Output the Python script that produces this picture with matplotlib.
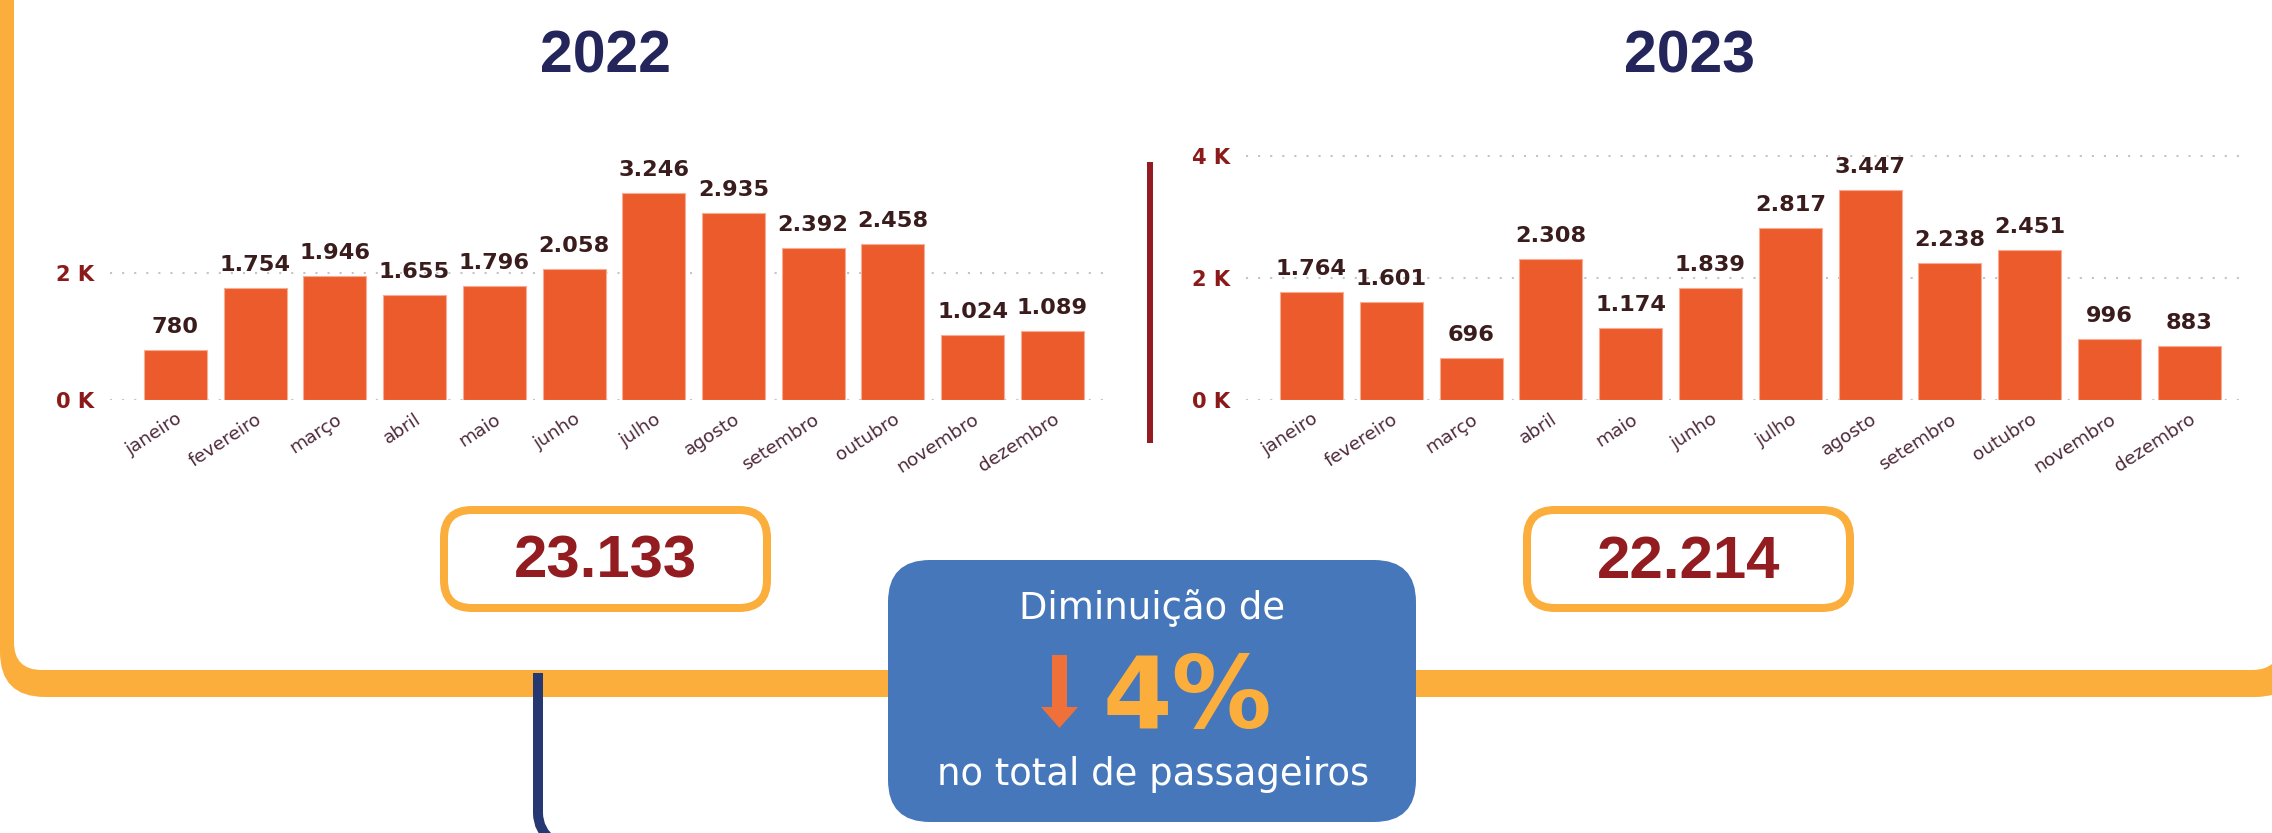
import matplotlib
matplotlib.use("Agg")
import matplotlib.pyplot as plt
from matplotlib.patches import FancyBboxPatch, Polygon, PathPatch
from matplotlib.path import Path
from matplotlib.transforms import ScaledTranslation

# Dados (passageiros por mês)
meses = ["janeiro", "fevereiro", "março", "abril", "maio", "junho",
         "julho", "agosto", "setembro", "outubro", "novembro", "dezembro"]
passageiros_2022 = [780, 1754, 1946, 1655, 1796, 2058, 3246, 2935, 2392, 2458, 1024, 1089]
passageiros_2023 = [1764, 1601, 696, 2308, 1174, 1839, 2817, 3447, 2238, 2451, 996, 883]
anos = ["2022", "2023"]
totais = ["23.133", "22.214"]
variacao = "4%"

W, H = 2272, 833          # tamanho final em pixels (dpi=100)
LARANJA = "#FBAE3C"
BARRA = "#EC5B2C"
AZUL = "#4677BA"
NAVY = "#23255B"
VINHO = "#921C1F"
VALOR = "#3A1C1C"
MES = "#4E2A3A"


def pt(px):
    """pixels -> pontos (dpi 100)."""
    return px * 0.72


def milhar(v):
    return f"{v:,}".replace(",", ".")


def eixo_px(fig, x0, y0, x1, y1):
    """Cria um eixo a partir de coordenadas em pixels (origem no topo)."""
    return fig.add_axes([x0 / W, 1 - y1 / H, (x1 - x0) / W, (y1 - y0) / H])


def grafico_mensal(ax, valores, ymax, yticks):
    x = list(range(len(valores)))
    ax.bar(x, valores, width=0.79, color=BARRA, edgecolor="#F6AD94",
           linewidth=0.8, zorder=2)
    for i, v in enumerate(valores):
        ax.annotate(milhar(v), (i, v), xytext=(0, pt(17)), textcoords="offset points",
                    ha="center", va="baseline", fontsize=pt(22.5),
                    fontweight="bold", color=VALOR)
    ax.set_xlim(-0.82, 11.71)
    ax.set_ylim(0, ymax)
    ax.set_yticks(yticks)
    ax.set_yticklabels([f"{t // 1000} K" for t in yticks], fontsize=pt(21),
                       fontweight="bold", color="#8B1A1A")
    ax.set_xticks(x)
    ax.set_xticklabels(meses, rotation=33, ha="right", rotation_mode="anchor",
                       fontsize=pt(18.5), color=MES)
    # leve deslocamento para a esquerda, como no original
    desloc = ScaledTranslation(-0.08, 0, ax.figure.dpi_scale_trans)
    for lbl in ax.get_xticklabels():
        lbl.set_transform(lbl.get_transform() + desloc)
    ax.yaxis.grid(True, linestyle=(0, (1, 4.8)), linewidth=1.5, color="#C4C4C4")
    ax.set_axisbelow(True)
    ax.tick_params(axis="y", length=0, pad=pt(16))
    ax.tick_params(axis="x", length=0, pad=pt(10))
    ax.set_facecolor("none")
    for s in ax.spines.values():
        s.set_visible(False)


fig = plt.figure(figsize=(W / 100, H / 100), dpi=100)
fig.patch.set_facecolor("white")

# fundo em pixels: moldura, caixas e textos
bg = fig.add_axes([0, 0, 1, 1])
bg.set_xlim(0, W)
bg.set_ylim(H, 0)
bg.axis("off")

bg.add_patch(FancyBboxPatch((0, -100), 2300, 797,
                            boxstyle="round,pad=0,rounding_size=45",
                            fc=LARANJA, ec="none", zorder=1))
bg.add_patch(FancyBboxPatch((14, -100), 2266, 770,
                            boxstyle="round,pad=0,rounding_size=28",
                            fc="white", ec="none", zorder=2))

# separador vertical entre os dois anos
bg.plot([1150, 1150], [162, 443], color="#951B22", lw=pt(6),
        solid_capstyle="butt", zorder=3)

# linha azul-marinho saindo da moldura
trilha = Path([(538, 673), (538, 813), (538, 830), (553, 842)],
              [Path.MOVETO, Path.LINETO, Path.CURVE3, Path.CURVE3])
bg.add_patch(PathPatch(trilha, fc="none", ec="#253872", lw=pt(10),
                       capstyle="butt", zorder=3))

# titulos e totais
for ano, total, cx, bx in zip(anos, totais, [605, 1689], [444, 1527]):
    bg.text(cx, 72, ano, ha="center", va="baseline", fontsize=pt(59),
            fontweight="bold", family="Liberation Sans", color=NAVY, zorder=4)
    bg.add_patch(FancyBboxPatch((bx, 510), 323, 98,
                                boxstyle="round,pad=0,rounding_size=28",
                                fc="white", ec=LARANJA, lw=pt(8), zorder=4))
    bg.text(bx + 161.5, 578, total, ha="center", va="baseline", fontsize=pt(60),
            fontweight="bold", family="Liberation Sans", color=VINHO, zorder=5)

# caixa azul com a variação
bg.add_patch(FancyBboxPatch((888, 560), 528, 262,
                            boxstyle="round,pad=0,rounding_size=42",
                            fc=AZUL, ec="none", zorder=4))
bg.text(1152, 619, "Diminuição de", ha="center", va="baseline",
        fontsize=pt(37), color="white", zorder=5)
bg.text(1187, 728, variacao, ha="center", va="baseline", fontsize=pt(100),
        fontweight="bold", color=LARANJA, zorder=5)
bg.text(1153, 785, "no total de passageiros", ha="center", va="baseline",
        fontsize=pt(37), color="white", zorder=5)
bg.add_patch(Polygon([(1052, 655), (1067, 655), (1067, 707), (1078, 707),
                      (1059.5, 728), (1041, 707), (1052, 707)],
                     closed=True, fc="#F0703A", ec="none", zorder=5))

# graficos de barras
ax1 = eixo_px(fig, 110, 150, 1109, 400)
grafico_mensal(ax1, passageiros_2022, 3928, [0, 2000])
ax2 = eixo_px(fig, 1246, 150, 2246, 400)
grafico_mensal(ax2, passageiros_2023, 4098, [0, 2000, 4000])

fig.savefig("out.png", dpi=100, facecolor="white")
